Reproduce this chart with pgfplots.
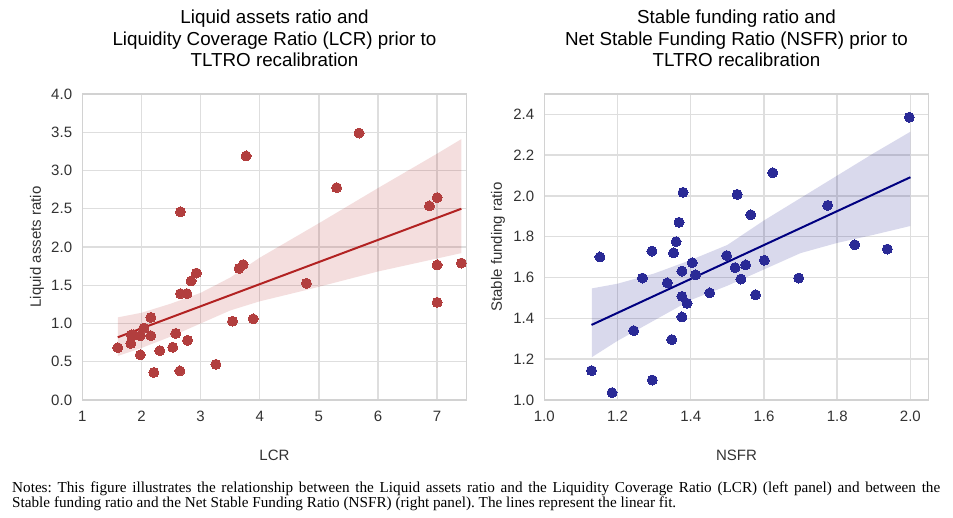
\documentclass[border=0pt]{standalone}
\usepackage{pgfplots}
\pgfplotsset{compat=1.18}
\usepackage{fontspec}
\setmainfont{Liberation Sans}
\newfontfamily\notesfont{Liberation Serif}
\definecolor{gridc}{RGB}{222,222,222}
\definecolor{spinec}{RGB}{210,210,210}
\definecolor{tickc}{RGB}{50,50,50}
\definecolor{fire}{RGB}{178,34,34}
\definecolor{firept}{RGB}{178,62,62}
\definecolor{nav}{RGB}{0,0,128}
\definecolor{navpt}{RGB}{42,42,150}

\pgfplotsset{
  regstyle/.style={
    scale only axis, width=384.4pt, height=306pt,
    anchor=south west,
    axis line style={draw=spinec, line width=1.4pt},
    grid=major, major grid style={draw=gridc, line width=1.4pt},
    major tick length=0pt,
    tick label style={font=\fontsize{15}{18}\selectfont, text=tickc, inner sep=0pt},
    yticklabel style={anchor=east, xshift=-10pt},
    xticklabel style={anchor=north, yshift=-11pt},
    /pgf/number format/assume math mode=true,
    label style={font=\fontsize{15}{18}\selectfont, text=tickc},
    title style={font=\fontsize{18.8}{21.5}\selectfont, align=center, inner sep=0pt,
      at={(axis description cs:0.5,1)}, anchor=south, yshift=21pt},
    xlabel style={at={(axis description cs:0.5,-0.18)}, anchor=center},
  }
}

\begin{document}
\frenchspacing
\begin{tikzpicture}
\path[use as bounding box] (0,0) rectangle (953pt,518pt);

% Left panel
\begin{axis}[regstyle, at={(82.3pt,118pt)},
  xmin=1, xmax=7.5, ymin=0, ymax=4,
  xtick={1,2,3,4,5,6,7},
  ytick={0,0.5,1,1.5,2,2.5,3,3.5,4},
  yticklabel style={/pgf/number format/.cd, fixed, fixed zerofill, precision=1},
  ylabel={Liquid assets ratio},
  ylabel style={at={(axis description cs:-0.118,0.5)}, anchor=center},
  xlabel={LCR},
  title={Liquid assets ratio and\\Liquidity Coverage Ratio (LCR) prior to\\TLTRO recalibration},
]
\addplot[only marks, color=firept, mark=*, mark size=5pt, mark options={draw=firept, fill=firept, line width=0pt}] coordinates {
(1.60,0.684) (1.82,0.74) (1.83,0.85) (1.86,0.85) (1.98,0.84) (1.98,0.59)
(2.04,0.94) (2.16,1.08) (2.16,0.84) (2.21,0.36) (2.31,0.645) (2.53,0.69)
(2.58,0.87) (2.65,0.38) (2.66,2.46) (2.66,1.39) (2.77,1.39) (2.78,0.78)
(2.84,1.556) (2.93,1.66) (3.26,0.466) (3.54,1.03) (3.65,1.72) (3.72,1.77)
(3.77,3.19) (3.89,1.06) (4.79,1.525) (5.30,2.776) (5.68,3.49) (6.87,2.536)
(7.00,2.645) (7.00,1.765) (7.00,1.277) (7.41,1.79)
};
\addplot[draw=none, fill=fire, fill opacity=0.15] coordinates {
(1.6,1.08) (2.0,1.14) (2.5,1.26) (3.0,1.40) (3.5,1.60) (4.0,1.86) (5.0,2.31)
(6.0,2.77) (7.0,3.22) (7.41,3.41)
(7.41,1.92) (7.0,1.85) (6.0,1.68) (4.8,1.44) (4.0,1.29) (3.5,1.17) (3.0,1.00)
(2.5,0.83) (2.0,0.68) (1.6,0.575)
} --cycle;
\addplot[draw=fire, line width=2pt] coordinates {(1.6,0.82) (7.41,2.50)};
\end{axis}

% Right panel
\begin{axis}[regstyle, at={(544.3pt,118pt)},
  xmin=1, xmax=2.05, ymin=1, ymax=2.5,
  xtick={1,1.2,1.4,1.6,1.8,2.0},
  ytick={1,1.2,1.4,1.6,1.8,2.0,2.2,2.4},
  xticklabel style={/pgf/number format/.cd, fixed, fixed zerofill, precision=1},
  yticklabel style={/pgf/number format/.cd, fixed, fixed zerofill, precision=1},
  ylabel={Stable funding ratio},
  ylabel style={at={(axis description cs:-0.1206,0.5)}, anchor=center},
  xlabel={NSFR},
  title={Stable funding ratio and\\Net Stable Funding Ratio (NSFR) prior to\\TLTRO recalibration},
]
\addplot[only marks, color=navpt, mark=*, mark size=5pt, mark options={draw=navpt, fill=navpt, line width=0pt}] coordinates {
(1.129,1.144) (1.152,1.701) (1.185,1.036) (1.244,1.340) (1.268,1.598)
(1.294,1.730) (1.295,1.098) (1.336,1.574) (1.348,1.296) (1.353,1.721)
(1.360,1.776) (1.368,1.871) (1.376,1.632) (1.376,1.508) (1.376,1.407)
(1.379,2.018) (1.390,1.474) (1.404,1.673) (1.413,1.613) (1.452,1.525)
(1.498,1.708) (1.521,1.649) (1.527,2.008) (1.537,1.593) (1.550,1.662)
(1.564,1.908) (1.577,1.516) (1.601,1.685) (1.624,2.114) (1.695,1.598)
(1.774,1.954) (1.848,1.761) (1.937,1.740) (1.997,2.386)
};
\addplot[draw=none, fill=nav, fill opacity=0.15] coordinates {
(1.13,1.547) (1.2,1.57) (1.3,1.62) (1.4,1.686) (1.5,1.76) (1.6,1.88)
(1.7,1.99) (1.8,2.10) (1.9,2.21) (2.0,2.315)
(2.0,1.853) (1.9,1.81) (1.8,1.77) (1.7,1.72) (1.6,1.64) (1.5,1.56)
(1.4,1.49) (1.3,1.39) (1.2,1.29) (1.13,1.21)
} --cycle;
\addplot[draw=nav, line width=2pt] coordinates {(1.129,1.368) (2.0,2.092)};
\end{axis}

% Notes
\node[anchor=base west, inner sep=0pt] at (12pt,25.3pt)
  {\notesfont\fontsize{15.2}{15}\selectfont\frenchspacing\makebox[928pt][s]{Notes: This figure illustrates the relationship between the Liquid assets ratio and the Liquidity Coverage Ratio (LCR) (left panel) and between the}};
\node[anchor=base west, inner sep=0pt] at (12pt,10.3pt)
  {\notesfont\fontsize{15.2}{15}\selectfont\frenchspacing Stable funding ratio and the Net Stable Funding Ratio (NSFR) (right panel). The lines represent the linear fit.};
\end{tikzpicture}
\end{document}
